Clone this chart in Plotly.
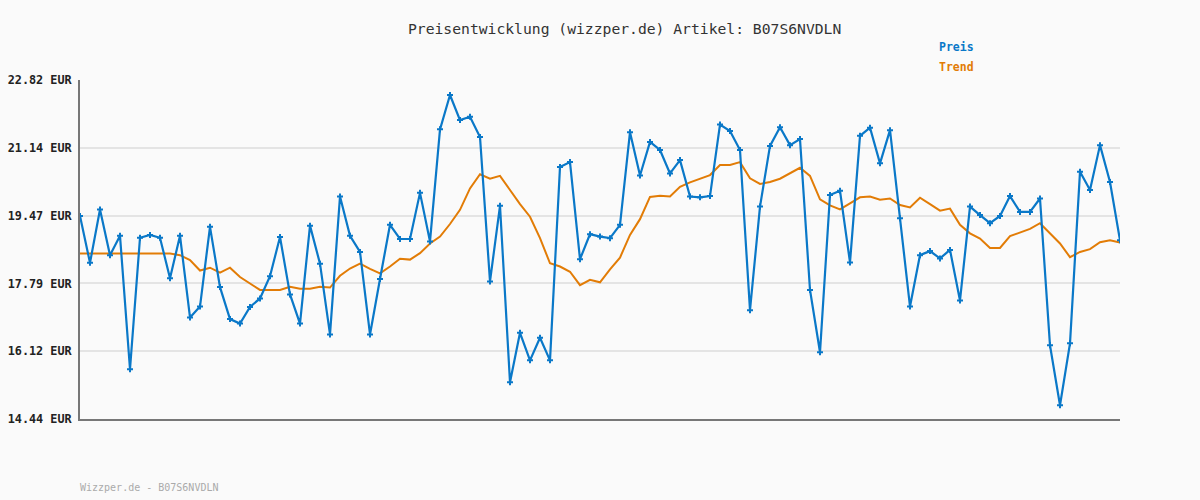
import plotly.graph_objects as go

preis = [19.46, 18.30, 19.62, 18.49, 18.97, 15.67, 18.92, 18.99, 18.92, 17.92,
         18.97, 16.95, 17.22, 19.19, 17.70, 16.91, 16.80, 17.21, 17.42, 17.97,
         18.94, 17.52, 16.80, 19.22, 18.28, 16.53, 19.94, 18.97, 18.57, 16.53,
         17.90, 19.24, 18.89, 18.89, 20.03, 18.83, 21.60, 22.45, 21.83, 21.91,
         21.41, 17.84, 19.71, 15.35, 16.57, 15.89, 16.45, 15.89, 20.67, 20.79,
         18.39, 19.01, 18.95, 18.91, 19.24, 21.53, 20.46, 21.29, 21.09, 20.51,
         20.84, 19.94, 19.92, 19.95, 21.72, 21.56, 21.09, 17.13, 19.69, 21.19,
         21.65, 21.21, 21.36, 17.63, 16.09, 19.98, 20.08, 18.31, 21.44, 21.64,
         20.76, 21.58, 19.40, 17.22, 18.49, 18.59, 18.41, 18.62, 17.37, 19.69,
         19.48, 19.28, 19.46, 19.95, 19.56, 19.56, 19.89, 16.26, 14.78, 16.31,
         20.55, 20.10, 21.21, 20.30, 18.86]

trend = [18.53, 18.53, 18.53, 18.53, 18.53, 18.53, 18.53, 18.53, 18.53, 18.53,
         18.49, 18.37, 18.11, 18.18, 18.06, 18.18, 17.95, 17.78, 17.63, 17.63,
         17.63, 17.71, 17.66, 17.66, 17.71, 17.69, 17.98, 18.16, 18.28, 18.15,
         18.04, 18.21, 18.40, 18.38, 18.54, 18.78, 18.95, 19.26, 19.61, 20.14,
         20.49, 20.38, 20.45, 20.10, 19.75, 19.44, 18.91, 18.29, 18.21, 18.08,
         17.75, 17.88, 17.82, 18.14, 18.43, 18.99, 19.38, 19.93, 19.96, 19.94,
         20.18, 20.29, 20.38, 20.47, 20.72, 20.72, 20.79, 20.39, 20.25, 20.30,
         20.38, 20.51, 20.65, 20.45, 19.87, 19.72, 19.62, 19.77, 19.92, 19.94,
         19.86, 19.89, 19.73, 19.67, 19.91, 19.75, 19.59, 19.64, 19.24, 19.03,
         18.90, 18.67, 18.67, 18.96, 19.05, 19.14, 19.28, 19.03, 18.78, 18.44,
         18.57, 18.64, 18.81, 18.86, 18.80]

tick_vals = [14.44, 16.12, 17.79, 19.47, 21.14, 22.82]
tick_text = ["14.44 EUR", "16.12 EUR", "17.79 EUR", "19.47 EUR", "21.14 EUR", "22.82 EUR"]

title_text = "Preisentwicklung (wizzper.de) Artikel: B07S6NVDLN"
footer_text = "Wizzper.de - B07S6NVDLN"

BLUE = "#0a78c8"
ORANGE = "#e27c06"
FONT = "DejaVu Sans Mono"

x = list(range(len(preis)))

fig = go.Figure()
fig.add_trace(go.Scatter(x=x, y=trend, mode="lines", name="Trend",
                         line=dict(color=ORANGE, width=2)))
fig.add_trace(go.Scatter(x=x, y=preis, mode="lines+markers", name="Preis",
                         line=dict(color=BLUE, width=2.2),
                         marker=dict(symbol="cross", size=5, color=BLUE)))

fig.update_layout(
    width=1200, height=500,
    margin=dict(l=80, r=80, t=80, b=81, autoexpand=False),
    paper_bgcolor="#fafafa", plot_bgcolor="#fafafa",
    showlegend=False,
    font=dict(family=FONT, color="#333333"),
    xaxis=dict(range=[0, len(preis) - 1], showgrid=False, showticklabels=False,
               zeroline=False, showline=True, linecolor="#777777", linewidth=2,
               ticks="", automargin=False),
    yaxis=dict(range=[14.44, 22.82], tickvals=tick_vals, ticktext=tick_text,
               showgrid=True, gridcolor="#e4e4e4", gridwidth=2, zeroline=False,
               showline=True, linecolor="#777777", linewidth=2, ticks="",
               ticklabelstandoff=4, automargin=False,
               tickfont=dict(family=FONT, size=11.8, color="#222222", weight="bold")),
)

fig.add_annotation(text=title_text, xref="paper", yref="paper",
                   x=(624 - 80) / 1040, y=1 + (80 - 28) / 339, showarrow=False,
                   xanchor="center", yanchor="middle",
                   font=dict(family=FONT, size=14.7, color="#333333"))
fig.add_annotation(text="Preis", xref="paper", yref="paper",
                   x=(937 - 80) / 1040, y=1 + (80 - 47) / 339, showarrow=False,
                   xanchor="left", yanchor="middle",
                   font=dict(family=FONT, size=11.5, color=BLUE, weight="bold"))
fig.add_annotation(text="Trend", xref="paper", yref="paper",
                   x=(937 - 80) / 1040, y=1 + (80 - 67) / 339, showarrow=False,
                   xanchor="left", yanchor="middle",
                   font=dict(family=FONT, size=11.5, color=ORANGE, weight="bold"))
fig.add_annotation(text=footer_text, xref="paper", yref="paper",
                   x=-2 / 1040, y=-(487 - 419) / 339, showarrow=False,
                   xanchor="left", yanchor="middle",
                   font=dict(family=FONT, size=10, color="#aaaaaa"))

fig.write_html("out.html")
